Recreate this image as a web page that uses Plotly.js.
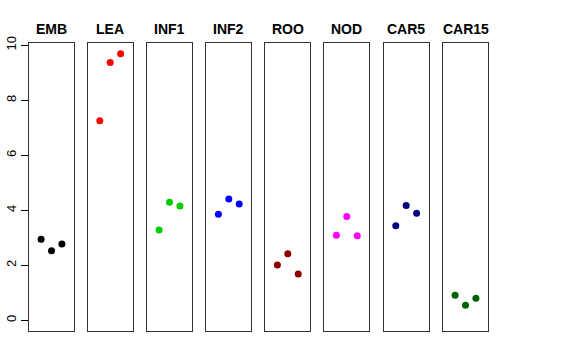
<!DOCTYPE html>
<html>
<head>
<meta charset="utf-8">
<script src="https://cdn.plot.ly/plotly-3.0.1.min.js"></script>
<style>html,body{margin:0;padding:0;background:#fff}#chart{width:576px;height:360px}</style>
</head>
<body>
<div id="chart"></div>
<script>
const categories = ["EMB", "LEA", "INF1", "INF2", "ROO", "NOD", "CAR5", "CAR15"];
const replicate = [1, 2, 3];
const EMB = [2.95, 2.53, 2.77];
const LEA = [7.25, 9.37, 9.69];
const INF1 = [3.28, 4.29, 4.15];
const INF2 = [3.85, 4.41, 4.23];
const ROO = [2.01, 2.42, 1.68];
const NOD = [3.09, 3.77, 3.07];
const CAR5 = [3.44, 4.17, 3.89];
const CAR15 = [0.91, 0.55, 0.80];
const seriesValues = [EMB, LEA, INF1, INF2, ROO, NOD, CAR5, CAR15];
const colors = ["#000000", "#FF0000", "#00CD00", "#0000FF", "#8B0000", "#FF00FF", "#000080", "#006400"];
const yTicks = [0, 2, 4, 6, 8, 10];

const W = 576, H = 360;
const mL = 29, mT = 43, mB = 29;
const panelLeft = [29, 87.7, 147, 206.3, 265.3, 324.3, 383.7, 443];
const panelW = 45;
const plotRight = 488;
const plotW = plotRight - mL;

const traces = [];
const layout = {
  width: W, height: H,
  margin: {l: mL, r: W - plotRight, t: mT, b: mB, pad: 0},
  paper_bgcolor: "#fff", plot_bgcolor: "rgba(0,0,0,0)",
  showlegend: false,
  font: {family: "Liberation Sans, Arial, sans-serif", color: "#000"},
  annotations: []
};

categories.forEach((cat, i) => {
  const n = i + 1;
  const xa = n === 1 ? "x" : "x" + n;
  const ya = n === 1 ? "y" : "y" + n;
  traces.push({
    type: "scatter", mode: "markers",
    x: replicate, y: seriesValues[i],
    xaxis: xa, yaxis: ya,
    marker: {color: colors[i], size: 7},
    hoverinfo: "skip"
  });
  const d0 = (panelLeft[i] - mL) / plotW;
  const d1 = (panelLeft[i] + panelW - mL) / plotW;
  layout[n === 1 ? "xaxis" : "xaxis" + n] = {
    domain: [d0, d1], range: [-0.16, 4.16], anchor: ya,
    showgrid: false, zeroline: false, showticklabels: false, ticks: "",
    showline: true, mirror: true, linecolor: "#333", linewidth: 1, fixedrange: true
  };
  layout[n === 1 ? "yaxis" : "yaxis" + n] = {
    domain: [0, 1], range: [-0.39, 10.08], anchor: xa,
    showgrid: false, zeroline: false,
    showline: true, mirror: true, linecolor: "#333", linewidth: 1,
    tickvals: n === 1 ? yTicks : [],
    ticktext: n === 1 ? yTicks.map(String) : [],
    showticklabels: n === 1,
    ticks: n === 1 ? "outside" : "", ticklen: 7, tickcolor: "#000", tickwidth: 1,
    tickangle: -90,
    tickfont: {size: 13, family: "Liberation Sans, Arial, sans-serif", color: "#000"},
    fixedrange: true
  };
  layout.annotations.push({
    text: "<b>" + cat + "</b>",
    xref: "paper", yref: "paper",
    x: (panelLeft[i] + panelW / 2 - mL) / plotW,
    y: (H - mB - 29) / (H - mT - mB),
    xanchor: "center", yanchor: "middle",
    showarrow: false,
    font: {size: 14, family: "Liberation Sans, Arial, sans-serif", color: "#000"}
  });
});

Plotly.newPlot("chart", traces, layout, {staticPlot: true, displayModeBar: false});
</script>
</body>
</html>
